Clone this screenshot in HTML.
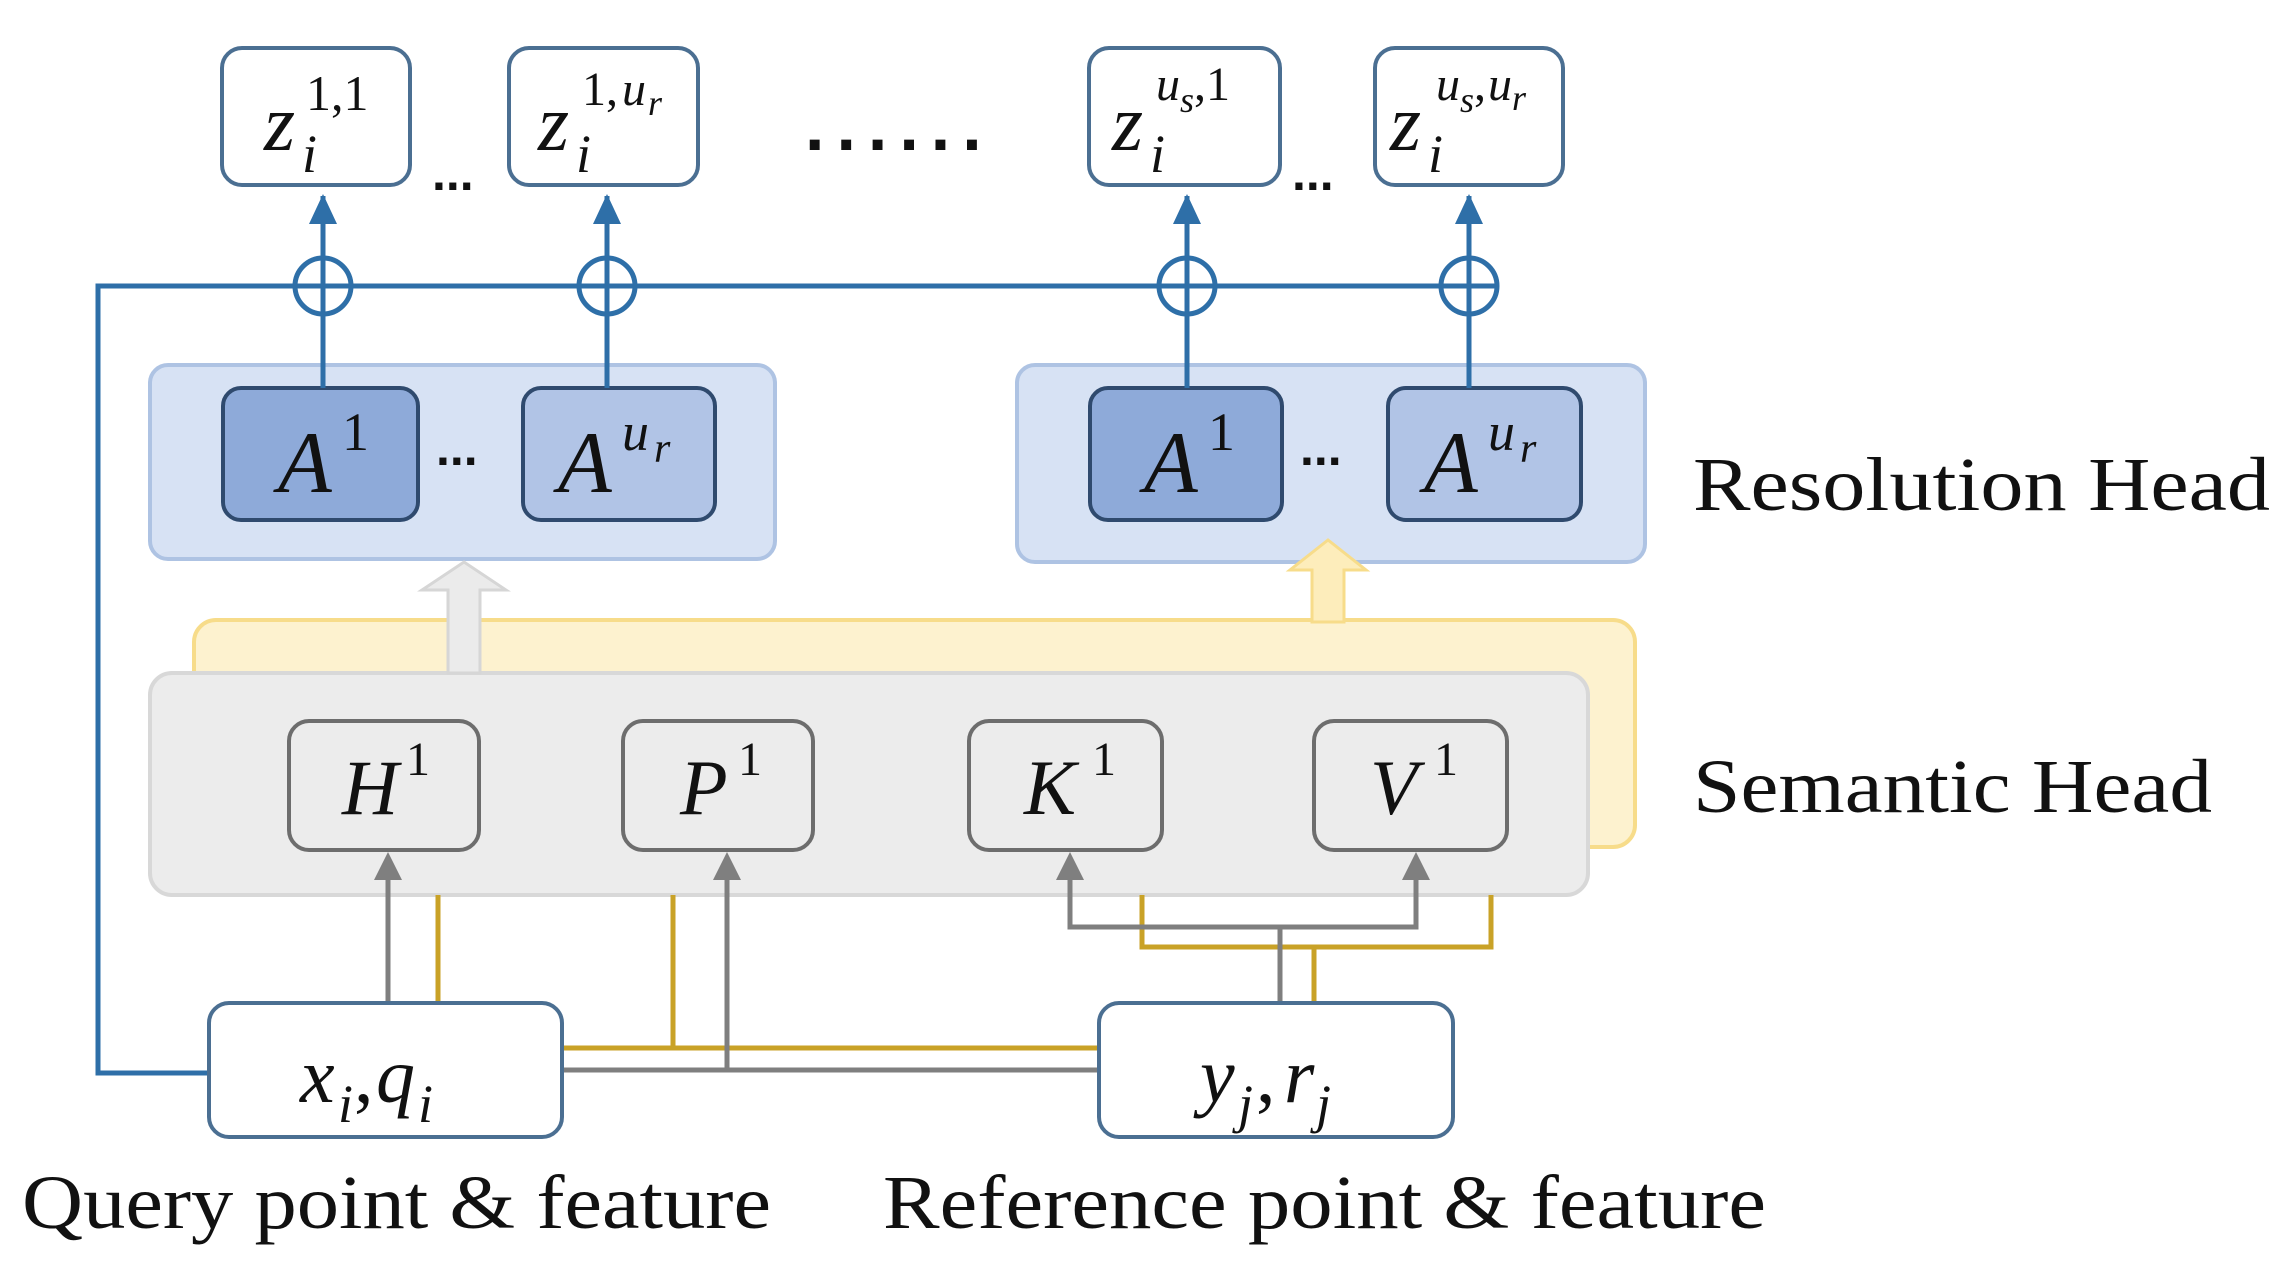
<!DOCTYPE html>
<html><head><meta charset="utf-8"><style>
html,body{margin:0;padding:0;background:#fff;}
svg{display:block}
.m{font-family:"Liberation Serif",serif;font-style:italic;fill:#111}
.t{font-family:"Liberation Serif",serif;fill:#111}
</style></head><body>
<svg width="2289" height="1276" viewBox="0 0 2289 1276" xmlns="http://www.w3.org/2000/svg">
<defs>
<marker id="ab" markerWidth="10" markerHeight="10" refX="5" refY="5" orient="auto" markerUnits="userSpaceOnUse" viewBox="0 0 10 10"><path d="M0,0 L10,5 L0,10z" fill="#2e6fa8"/></marker>
</defs>
<rect width="2289" height="1276" fill="#fff"/>

<rect x="194" y="620" width="1441" height="227" rx="22" fill="#fdf2cf" stroke="#f7dc8a" stroke-width="4"/>
<rect x="150" y="673" width="1438" height="222" rx="22" fill="#ececec" stroke="#d8d8d8" stroke-width="4"/>

<rect x="150" y="365" width="625" height="194" rx="18" fill="#d7e2f4" stroke="#aec3e3" stroke-width="4"/>
<rect x="1017" y="365" width="628" height="197" rx="18" fill="#d7e2f4" stroke="#aec3e3" stroke-width="4"/>

<path d="M448,673 L448,590 L422,590 L464,562 L506,590 L480,590 L480,673 Z" fill="#ebebeb" stroke="#d6d6d6" stroke-width="3"/>
<path d="M1312,622 L1312,570 L1290,570 L1328,540 L1366,570 L1344,570 L1344,622 Z" fill="#fdedbb" stroke="#f7dc8a" stroke-width="3"/>

<g stroke="#2f4a6e" stroke-width="4">
<rect x="223" y="388" width="195" height="132" rx="18" fill="#8eaad9"/>
<rect x="523" y="388" width="192" height="132" rx="18" fill="#b1c4e6"/>
<rect x="1090" y="388" width="192" height="132" rx="18" fill="#8eaad9"/>
<rect x="1388" y="388" width="193" height="132" rx="18" fill="#b1c4e6"/>
</g>
<g class="m" font-size="88">
<text x="278" y="492">A</text><text x="342" y="450" font-style="normal" font-size="54">1</text>
<text x="558" y="492">A</text><text x="622" y="450" font-size="54">u</text><text x="654" y="462" font-size="42">r</text>
<text x="1144" y="492">A</text><text x="1208" y="450" font-style="normal" font-size="54">1</text>
<text x="1424" y="492">A</text><text x="1488" y="450" font-size="54">u</text><text x="1520" y="462" font-size="42">r</text>
</g>
<g font-family="Liberation Sans,sans-serif" font-weight="bold" font-size="50" fill="#111">
<text x="436" y="465">...</text>
<text x="1300" y="465">...</text>
<text x="432" y="190">...</text>
<text x="1292" y="190">...</text>
<text x="805" y="150" font-size="70" letter-spacing="12">......</text>
</g>

<polyline points="209,1073 98,1073 98,286 1498,286" fill="none" stroke="#2e6fa8" stroke-width="5"/>
<g stroke="#2e6fa8" stroke-width="5" fill="none">
<line x1="323" y1="388" x2="323" y2="196"/>
<line x1="607" y1="388" x2="607" y2="196"/>
<line x1="1187" y1="388" x2="1187" y2="196"/>
<line x1="1469" y1="388" x2="1469" y2="196"/>
<circle cx="323" cy="286" r="28"/><circle cx="607" cy="286" r="28"/>
<circle cx="1187" cy="286" r="28"/><circle cx="1469" cy="286" r="28"/>
</g>
<path d="M323,194 l-14,30 h28z M607,194 l-14,30 h28z M1187,194 l-14,30 h28z M1469,194 l-14,30 h28z" fill="#2e6fa8"/>

<g fill="#fff" stroke="#4b6f92" stroke-width="4">
<rect x="222" y="48" width="188" height="137" rx="20"/>
<rect x="509" y="48" width="189" height="137" rx="20"/>
<rect x="1089" y="48" width="191" height="137" rx="20"/>
<rect x="1375" y="48" width="188" height="137" rx="20"/>
</g>
<g class="m">
<text x="264" y="150" font-size="80">z</text><text x="302" y="172" font-size="54">i</text><text x="306" y="110" font-size="50" font-style="normal">1,1</text>
<text x="538" y="150" font-size="80">z</text><text x="576" y="172" font-size="54">i</text><text x="582" y="105" font-size="48" font-style="normal">1,</text><text x="622" y="105" font-size="48">u</text><text x="648" y="115" font-size="36">r</text>
<text x="1112" y="150" font-size="80">z</text><text x="1150" y="172" font-size="54">i</text><text x="1156" y="100" font-size="48">u</text><text x="1180" y="112" font-size="36">s</text><text x="1194" y="100" font-size="48" font-style="normal">,1</text>
<text x="1390" y="150" font-size="80">z</text><text x="1428" y="172" font-size="54">i</text><text x="1436" y="100" font-size="48">u</text><text x="1460" y="112" font-size="36">s</text><text x="1474" y="100" font-size="48" font-style="normal">,</text><text x="1488" y="100" font-size="48">u</text><text x="1512" y="110" font-size="36">r</text>
</g>

<g fill="#ececec" stroke="#6d6d6d" stroke-width="4">
<rect x="289" y="721" width="190" height="129" rx="20"/>
<rect x="623" y="721" width="190" height="129" rx="20"/>
<rect x="969" y="721" width="193" height="129" rx="20"/>
<rect x="1314" y="721" width="193" height="129" rx="20"/>
</g>
<g class="m" font-size="78">
<text x="342" y="814">H</text><text x="406" y="775" font-size="48" font-style="normal">1</text>
<text x="680" y="814">P</text><text x="738" y="775" font-size="48" font-style="normal">1</text>
<text x="1024" y="814">K</text><text x="1092" y="775" font-size="48" font-style="normal">1</text>
<text x="1370" y="814">V</text><text x="1434" y="775" font-size="48" font-style="normal">1</text>
</g>

<g fill="none" stroke-width="5">
<line x1="438" y1="1003" x2="438" y2="895" stroke="#c9a227"/>
<polyline points="562,1048 1099,1048" stroke="#c9a227"/>
<line x1="673" y1="1048" x2="673" y2="895" stroke="#c9a227"/>
<polyline points="1314,1003 1314,947" stroke="#c9a227"/>
<polyline points="1142,895 1142,947 1491,947 1491,895" stroke="#c9a227"/>
<line x1="388" y1="1003" x2="388" y2="872" stroke="#7f7f7f"/>
<polyline points="562,1070 1099,1070" stroke="#7f7f7f"/>
<line x1="727" y1="1070" x2="727" y2="872" stroke="#7f7f7f"/>
<polyline points="1280,1003 1280,927" stroke="#7f7f7f"/>
<polyline points="1070,872 1070,927 1416,927 1416,872" stroke="#7f7f7f"/>
</g>
<path d="M388,852 l-14,28 h28z M727,852 l-14,28 h28z M1070,852 l-14,28 h28z M1416,852 l-14,28 h28z" fill="#7f7f7f"/>

<rect x="209" y="1003" width="353" height="134" rx="20" fill="#fff" stroke="#4b6f92" stroke-width="4"/>
<rect x="1099" y="1003" width="354" height="134" rx="20" fill="#fff" stroke="#4b6f92" stroke-width="4"/>
<g class="m" font-size="78">
<text x="300" y="1102">x</text><text x="338" y="1122" font-size="54">i</text><text x="354" y="1102" font-style="normal">,</text><text x="376" y="1102">q</text><text x="418" y="1122" font-size="54">i</text>
<text x="1200" y="1102">y</text><text x="1238" y="1122" font-size="54">j</text><text x="1256" y="1102" font-style="normal">,</text><text x="1284" y="1102">r</text><text x="1316" y="1122" font-size="54">j</text>
</g>

<g class="t" font-size="76">
<text x="1693" y="510" textLength="577" lengthAdjust="spacingAndGlyphs">Resolution Head</text>
<text x="1693" y="812" textLength="519" lengthAdjust="spacingAndGlyphs">Semantic Head</text>
<text x="22" y="1228" textLength="749" lengthAdjust="spacingAndGlyphs">Query point &amp; feature</text>
<text x="883" y="1228" textLength="883" lengthAdjust="spacingAndGlyphs">Reference point &amp; feature</text>
</g>
</svg>
</body></html>
